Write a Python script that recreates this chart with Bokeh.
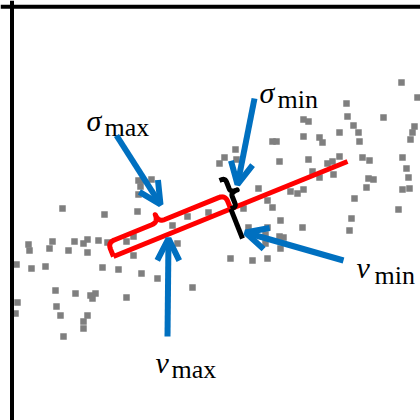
import numpy as np
from bokeh.plotting import figure
from bokeh.models import Range1d, ColumnDataSource, Arrow, OpenHead, Span
from bokeh.core.properties import value
from bokeh.embed import file_html
from bokeh.resources import INLINE

# ---- data (diagram coordinates, y grows downward) ----
pts_x = [62, 104, 138, 142, 151, 140, 138, 137,
         28, 29, 52, 49, 74, 68, 83, 87, 87, 98, 107, 126, 133, 133,
         16, 31, 45, 102, 118, 141, 157, 192,
         55, 75, 90, 95, 92, 126,
         17, 15, 56, 60, 87, 83, 83, 63,
         172, 177, 187, 208,
         235, 224, 219, 236, 243, 258, 267, 272, 248, 230, 252, 267, 265, 267, 279, 283, 280, 265,
         290, 297, 303,
         401, 417, 346, 347, 383, 303, 308, 353, 272, 276, 303, 319, 322, 339, 358, 359, 414, 412, 410,
         279, 308, 339, 362, 369, 402, 327, 332, 406, 312, 333, 319, 368, 373, 408, 366, 402, 409,
         354, 398, 280, 351, 302, 349]
pts_y = [208, 214, 180, 180, 179, 186, 194, 211,
         244, 250, 241, 248, 241, 250, 243, 239, 252, 240, 242, 241, 236, 255,
         264, 268, 266, 267, 269, 273, 278, 287,
         290, 293, 295, 293, 298, 297,
         302, 313, 306, 315, 315, 321, 328, 336,
         225, 243, 216, 212,
         149, 157, 163, 159, 208, 188, 200, 207, 227, 258, 260, 258, 234, 227, 236, 237, 248, 243,
         191, 193, 189,
         82, 97, 103, 116, 117, 119, 121, 125, 141, 141, 136, 137, 142, 132, 132, 141, 126, 132, 139,
         161, 159, 156, 157, 160, 157, 163, 161, 168, 171, 174, 177, 178, 179, 177, 187, 189, 188,
         198, 209, 220, 218, 227, 230]

vmax_axis_x = [113, 347]
vmax_axis_y = [256, 161]
vmin_axis_x = [219, 242]
vmin_axis_y = [180, 238]

arrow_x0 = [116, 254, 167, 343]
arrow_y0 = [135, 98, 336, 260]
arrow_x1 = [160, 237, 168, 245]
arrow_y1 = [204, 184, 238, 232]

label_sym = ["σ", "σ", "v", "v"]
label_sub = ["max", "min", "max", "min"]
label_x = [86, 259, 155, 356]
label_y = [120, 92, 362, 267]
sub_x = [104, 277, 171, 374]
sub_y = [127, 99, 369, 275]

# ---- geometry helpers ----
a0 = np.array([vmax_axis_x[0], vmax_axis_y[0]], float)
a1 = np.array([vmax_axis_x[1], vmax_axis_y[1]], float)
b0 = np.array([vmin_axis_x[0], vmin_axis_y[0]], float)
b1 = np.array([vmin_axis_x[1], vmin_axis_y[1]], float)
A = np.column_stack([a1 - a0, -(b1 - b0)])
t, s = np.linalg.solve(A, b0 - a0)
center = a0 + t * (a1 - a0)


def brace(p0, p1, h, b, r, frac=0.5, side=1):
    p0 = np.asarray(p0, float)
    p1 = np.asarray(p1, float)
    d = p1 - p0
    L = np.hypot(*d)
    u = d / L
    n = np.array([u[1], -u[0]]) * side
    m = frac * L

    def q(a, c, e, k=14):
        tt = np.linspace(0, 1, k)[:, None]
        a, c, e = map(np.array, (a, c, e))
        return (1 - tt) ** 2 * a + 2 * (1 - tt) * tt * c + tt ** 2 * e

    segs = [np.array([[0, 0], [0, h - r]]),
            q((0, h - r), (0, h), (r, h)),
            q((m - r, h), (m, h), (m, h + b)),
            q((m, h + b), (m, h), (m + r, h)),
            q((L - r, h), (L, h), (L, h - r)),
            np.array([[L, 0]])]
    loc = np.vstack(segs)
    pts = p0 + loc[:, 0:1] * u + loc[:, 1:2] * n
    return pts[:, 0], pts[:, 1]


p = figure(width=420, height=420, output_backend="svg", toolbar_location=None,
           x_range=Range1d(0, 420), y_range=Range1d(420, 0), min_border=0)
p.axis.visible = False
p.grid.visible = False
p.outline_line_color = None
p.background_fill_color = "white"

# frame (left and top edges)
p.add_layout(Span(location=11.5, dimension="height", line_color="black", line_width=4))
p.add_layout(Span(location=6.3, dimension="width", line_color="black", line_width=4))

p.scatter(pts_x, pts_y, marker="square", size=6.5, color="#7f7f7f", line_color=None)

# red principal axis + brace
p.line(vmax_axis_x, vmax_axis_y, line_color="#ff0000", line_width=5)
rx, ry = brace(a0, center, h=15, b=8, r=7, frac=0.43, side=1)
p.line(rx, ry, line_color="#ff0000", line_width=5, line_join="round")

# black minor axis + brace
p.line([center[0], b1[0]], [center[1], b1[1]], line_color="black", line_width=5)
kx, ky = brace(center, b0, h=6, b=7, r=4, frac=0.5, side=-1)
p.line(kx, ky, line_color="black", line_width=5, line_join="round")

# arrows
asrc = ColumnDataSource(dict(x0=arrow_x0, y0=arrow_y0, x1=arrow_x1, y1=arrow_y1))
p.add_layout(Arrow(x_start="x0", y_start="y0", x_end="x1", y_end="y1", source=asrc,
                   line_color="#0070c0", line_width=6,
                   end=OpenHead(size=22, line_color="#0070c0", line_width=6)))

# labels
p.text(label_x, label_y, text=label_sym, text_font=value("Liberation Serif"),
       text_font_style="italic", text_font_size="30px", text_color="black",
       text_baseline="alphabetic", text_align="left")
p.text(sub_x, sub_y, text=label_sub, text_font=value("Liberation Serif"),
       text_font_size="26px", text_color="black",
       text_baseline="alphabetic", text_align="left")

open("out.html", "w").write(file_html(p, INLINE))
